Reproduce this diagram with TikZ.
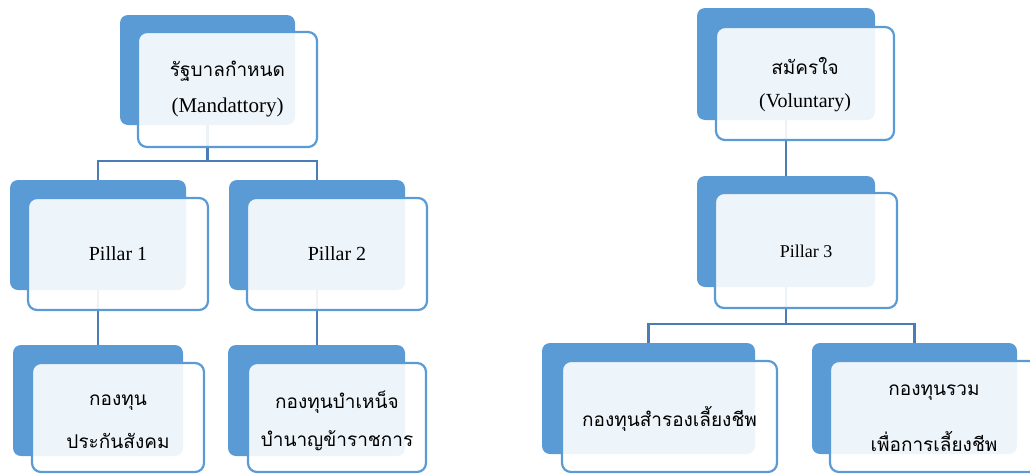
\documentclass[tikz,border=0pt]{standalone}
\usepackage{fontspec}
\setmainfont{Liberation Serif}
\newfontfamily\thai[Script=Thai]{Loma}
\usetikzlibrary{fit,calc}
\definecolor{cardblue}{HTML}{5B9BD5}
\definecolor{linkblue}{HTML}{4A7DB5}
\tikzset{
  backcard/.style={fill=cardblue, rounded corners=8pt, inner sep=0pt, outer sep=0pt},
  frontcard/.style={draw=cardblue, line width=2.2pt, fill=white, fill opacity=0.9,
    text opacity=1, rounded corners=9pt, inner sep=0pt, outer sep=0pt, align=center},
  link/.style={draw=linkblue, line width=2.6pt},
  latin/.style={font=\fontsize{20}{36}\selectfont},
  thaitxt/.style={font=\thai\fontsize{19}{38}\selectfont},
}
\begin{document}
\begin{tikzpicture}[x=1pt, y=-1pt]
\useasboundingbox (0,0) rectangle (1030,474);

% back cards
\node[backcard, fit={(120,15) (295,125)}] (mB) {};
\node[backcard, fit={(10,180) (186,290)}] (p1B) {};
\node[backcard, fit={(229,180) (405,290)}] (p2B) {};
\node[backcard, fit={(13,345) (183,456)}] (ssB) {};
\node[backcard, fit={(228,345) (405,456)}] (gpB) {};
\node[backcard, fit={(697,8) (875,120)}] (vB) {};
\node[backcard, fit={(697,176) (875,287)}] (p3B) {};
\node[backcard, fit={(542,343) (755,454)}] (pvB) {};
\node[backcard, fit={(812,343) (1017,454)}] (rmB) {};

% connectors
\draw[link] (mB.south) -- ++(0,36) -| (p1B.north);
\draw[link] (mB.south) ++(0,36) -| (p2B.north);
\draw[link] (p1B.south) -- (ssB.north);
\draw[link] (p2B.south) -- (p2B.south |- gpB.north);
\draw[link] (vB.south) -- (p3B.north);
\draw[link] (p3B.south) -- ++(0,37) -| (pvB.north);
\draw[link] (p3B.south) ++(0,37) -| (rmB.north);

% front cards with their labels
\node[frontcard, fit={(138,32) (317,147)}] (mF) {};
\node[thaitxt] (mT1) at ($(mF.center)+(0,-18)$) {รัฐบาลกำหนด};
\node[latin, font=\fontsize{21}{36}\selectfont] (mT2) at ($(mF.center)+(0,18)$) {(Mandattory)};

\node[frontcard, fit={(28,198) (208,310)}] (p1F) {};
\node[latin] (p1T) at (p1F.center) {Pillar 1};
\node[frontcard, fit={(247,198) (427,310)}] (p2F) {};
\node[latin] (p2T) at (p2F.center) {Pillar 2};

\node[frontcard, fit={(32,363) (204,472)}] (ssF) {};
\node[thaitxt] (ssT1) at ($(ssF.center)+(0,-15)$) {กองทุน};
\node[thaitxt] (ssT2) at ($(ssF.center)+(0,23)$) {ประกันสังคม};
\node[frontcard, fit={(248,363) (426,472)}] (gpF) {};
\node[thaitxt] (gpT1) at ($(gpF.center)+(0,-15)$) {กองทุนบำเหน็จ};
\node[thaitxt] (gpT2) at ($(gpF.center)+(0,23)$) {บำนาญข้าราชการ};

\node[frontcard, fit={(716,27) (894,140)}] (vF) {};
\node[thaitxt] (vT1) at ($(vF.center)+(0,-17)$) {สมัครใจ};
\node[latin] (vT2) at ($(vF.center)+(0,19)$) {(Voluntary)};

\node[frontcard, fit={(715,193) (897,308)}] (p3F) {};
\node[latin, font=\fontsize{18}{20}\selectfont] (p3T) at ($(p3F.center)+(0,1)$) {Pillar 3};

\node[frontcard, fit={(562,361) (777,472)}] (pvF) {};
\node[thaitxt] (pvT) at ($(pvF.center)+(0,2)$) {กองทุนสำรองเลี้ยงชีพ};
\node[frontcard, fit={(830,361) (1038,472)}] (rmF) {};
\node[thaitxt] (rmT1) at ($(rmF.center)+(0,-24)$) {กองทุนรวม};
\node[thaitxt] (rmT2) at ($(rmF.center)+(0,25)$) {เพื่อการเลี้ยงชีพ};
\end{tikzpicture}
\end{document}
